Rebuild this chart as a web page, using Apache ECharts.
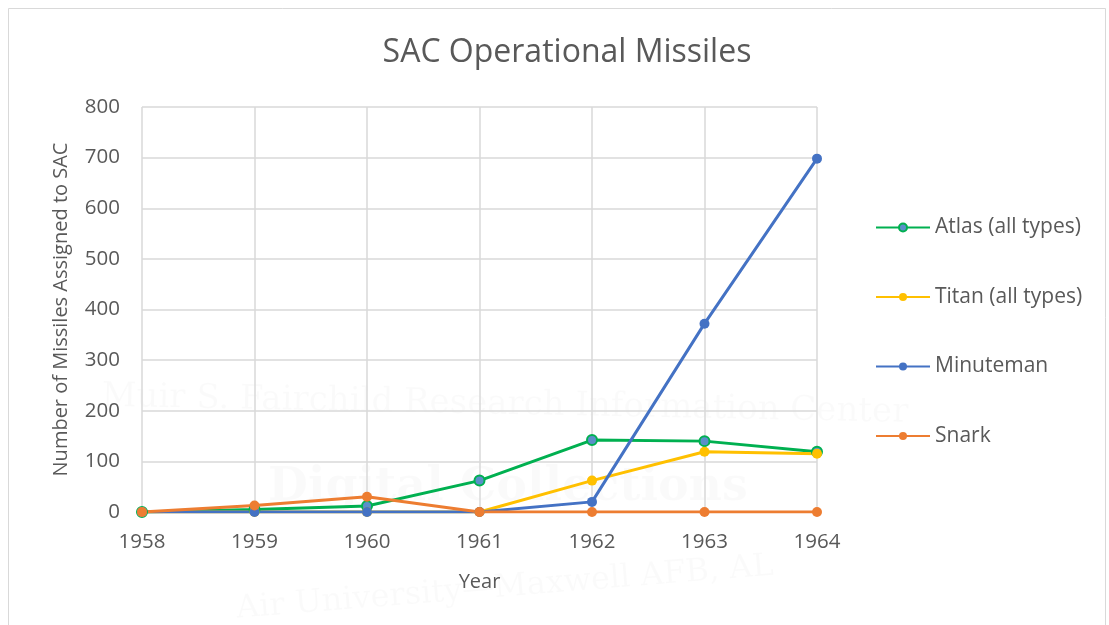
<!doctype html>
<html>
<head>
<meta charset="utf-8" />
<style>
  html, body { margin: 0; padding: 0; background: #fff; }
  #chart { width: 1109px; height: 625px; }
</style>
<script src="https://cdn.jsdelivr.net/npm/echarts@6/dist/echarts.min.js"></script>
</head>
<body>
<div id="chart"></div>
<script>
const years = ["1958", "1959", "1960", "1961", "1962", "1963", "1964"];
const atlas = [0, 5, 12, 62, 142, 140, 119];
const titan = [0, 0, 0, 0, 62, 119, 115];
const minuteman = [0, 0, 0, 0, 20, 372, 698];
const snark = [0, 13, 30, 0, 0, 0, 0];

const font = "'Open Sans', sans-serif";
const textColor = "#595959";

function lineSeries(name, data, color, fill) {
  return {
    name,
    type: "line",
    data,
    symbol: "circle",
    symbolSize: 10,
    lineStyle: { color, width: 3 },
    itemStyle: { color: fill || color, borderColor: color, borderWidth: fill ? 2 : 0 },
    emphasis: { disabled: true },
  };
}

// faint watermark text, like the scanned source
function mark(text, x, y, size, rot, bold) {
  return {
    type: "text", x, y, rotation: rot, silent: true, z: -10,
    style: { text, fontFamily: "DejaVu Serif", fontSize: size, fontWeight: bold ? "bold" : "normal",
      fill: "rgba(0,0,0,0.018)", textAlign: "center", textVerticalAlign: "middle" },
  };
}

const chart = echarts.init(document.getElementById("chart"), null, { renderer: "canvas" });
chart.setOption({
  animation: false,
  backgroundColor: "#ffffff",
  textStyle: { fontFamily: font },
  title: {
    text: "SAC Operational Missiles",
    left: 562,
    textAlign: "center",
    top: 32,
    textStyle: { fontFamily: font, fontSize: 32, fontWeight: "normal", color: textColor },
  },
  graphic: [
    {
      type: "rect",
      shape: { x: 8.5, y: 8.5, width: 1097, height: 640 },
      style: { fill: "none", stroke: "#d9d9d9", lineWidth: 1 },
      silent: true,
    },
    mark("Digital Collections", 508, 488, 46, 0, true),
    mark("Muir S. Fairchild Research Information Center", 505, 405, 34, -0.02, false),
    mark("Air University\u2014Maxwell AFB, AL", 505, 588, 32, 0.08, false),
  ],
  legend: {
    orient: "vertical",
    left: 870,
    top: 212,
    itemWidth: 54,
    itemHeight: 10,
    itemGap: 48.5,
    textStyle: { fontFamily: font, fontSize: 21, color: textColor },
    data: ["Atlas (all types)", "Titan (all types)", "Minuteman", "Snark"],
  },
  grid: { left: 142, right: 292, top: 107, bottom: 113, containLabel: false },
  xAxis: {
    type: "category",
    data: years,
    boundaryGap: false,
    name: "Year",
    nameLocation: "middle",
    nameGap: 60,
    nameTextStyle: { fontFamily: font, fontSize: 20, color: textColor },
    axisLine: { show: false },
    axisTick: { show: false },
    axisLabel: { fontFamily: font, fontSize: 20.5, color: textColor, margin: 20 },
    splitLine: { show: true, lineStyle: { color: "#d9d9d9", width: 1.5 } },
  },
  yAxis: {
    type: "value",
    min: 0,
    max: 800,
    interval: 100,
    name: "Number of Missiles Assigned to SAC",
    nameLocation: "middle",
    nameGap: 71,
    nameTextStyle: { fontFamily: font, fontSize: 20, color: textColor },
    axisLine: { show: false },
    axisTick: { show: false },
    axisLabel: { fontFamily: font, fontSize: 20.5, color: textColor, margin: 22 },
    splitLine: { lineStyle: { color: "#d9d9d9", width: 1.5 } },
  },
  series: [
    lineSeries("Atlas (all types)", atlas, "#00B050", "#5B8FC9"),
    lineSeries("Titan (all types)", titan, "#FFC000"),
    lineSeries("Minuteman", minuteman, "#4472C4"),
    lineSeries("Snark", snark, "#ED7D31"),
  ],
});
</script>
</body>
</html>
